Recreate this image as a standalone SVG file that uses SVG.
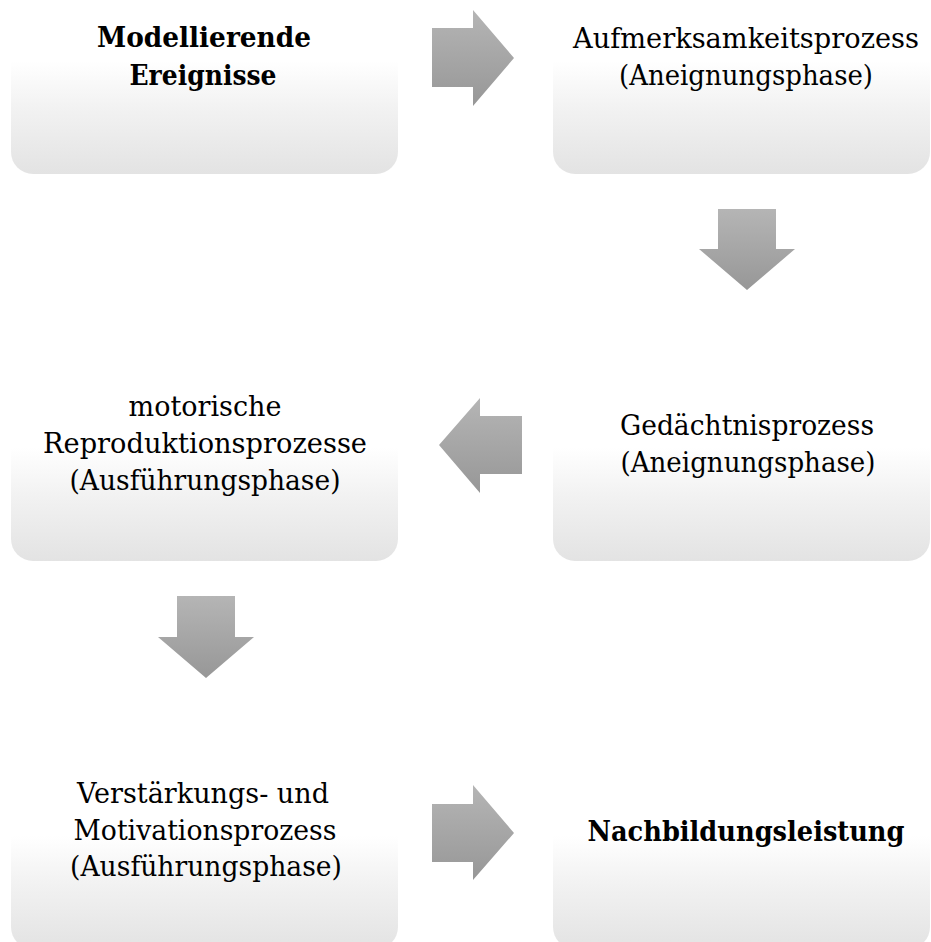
<svg xmlns="http://www.w3.org/2000/svg" width="931" height="942" viewBox="0 0 931 942">
  <defs>
    <linearGradient id="boxFill" x1="0" y1="0" x2="0" y2="1">
      <stop offset="0" stop-color="#ffffff"/>
      <stop offset="0.35" stop-color="#ffffff"/>
      <stop offset="0.62" stop-color="#f2f2f2"/>
      <stop offset="1" stop-color="#e3e3e3"/>
    </linearGradient>
    <linearGradient id="arrowFill" x1="0" y1="0" x2="0" y2="1">
      <stop offset="0" stop-color="#b5b5b5"/>
      <stop offset="1" stop-color="#979797"/>
    </linearGradient>
  </defs>
  <style>
    .box { fill: url(#boxFill); stroke: none; }
    .arrow { fill: url(#arrowFill); stroke: none; }
    text { font-family: "DejaVu Serif", "Liberation Serif", serif; font-size: 27px; fill: #000000; text-anchor: middle; }
    .b { font-weight: bold; }
  </style>
  <rect width="931" height="942" fill="#ffffff"/>

  <g id="connectors">
    <polygon class="arrow" points="432,28 473,28 473,10 514,58 473,106 473,87 432,87"/>
    <polygon class="arrow" points="718,209 776,209 776,249 795,249 747,290 699,249 718,249"/>
    <polygon class="arrow" points="522,416 480,416 480,398 439,445 480,493 480,474 522,474"/>
    <polygon class="arrow" points="177,596 235,596 235,637 254,637 206,678 158,637 177,637"/>
    <polygon class="arrow" points="432,804 473,804 473,785 514,833 473,880 473,862 432,862"/>
  </g>

  <g id="node-modellierende">
    <rect class="box" x="11" y="0" width="387" height="174" rx="22" ry="22"/>
    <text class="b" x="204" y="47" textLength="214" lengthAdjust="spacingAndGlyphs">Modellierende</text>
    <text class="b" x="203" y="85" textLength="147" lengthAdjust="spacingAndGlyphs">Ereignisse</text>
  </g>

  <g id="node-aufmerksamkeit">
    <rect class="box" x="553" y="0" width="377" height="174" rx="22" ry="22"/>
    <text x="746" y="48" textLength="346" lengthAdjust="spacingAndGlyphs">Aufmerksamkeitsprozess</text>
    <text x="746" y="85" textLength="254" lengthAdjust="spacingAndGlyphs">(Aneignungsphase)</text>
  </g>

  <g id="node-gedaechtnis">
    <rect class="box" x="553" y="387" width="377" height="174" rx="22" ry="22"/>
    <text x="747" y="435" textLength="254" lengthAdjust="spacingAndGlyphs">Gedächtnisprozess</text>
    <text x="748" y="472" textLength="255" lengthAdjust="spacingAndGlyphs">(Aneignungsphase)</text>
  </g>

  <g id="node-motorisch">
    <rect class="box" x="11" y="387" width="387" height="174" rx="22" ry="22"/>
    <text x="205" y="416" textLength="153" lengthAdjust="spacingAndGlyphs">motorische</text>
    <text x="205" y="453" textLength="324" lengthAdjust="spacingAndGlyphs">Reproduktionsprozesse</text>
    <text x="205" y="490" textLength="271" lengthAdjust="spacingAndGlyphs">(Ausführungsphase)</text>
  </g>

  <g id="node-verstaerkung">
    <rect class="box" x="11" y="775" width="387" height="174" rx="22" ry="22"/>
    <text x="203" y="803" textLength="252" lengthAdjust="spacingAndGlyphs">Verstärkungs- und</text>
    <text x="205" y="840" textLength="263" lengthAdjust="spacingAndGlyphs">Motivationsprozess</text>
    <text x="206" y="876" textLength="272" lengthAdjust="spacingAndGlyphs">(Ausführungsphase)</text>
  </g>

  <g id="node-nachbildung">
    <rect class="box" x="553" y="775" width="377" height="174" rx="22" ry="22"/>
    <text class="b" x="746" y="841" textLength="317" lengthAdjust="spacingAndGlyphs">Nachbildungsleistung</text>
  </g>
</svg>
